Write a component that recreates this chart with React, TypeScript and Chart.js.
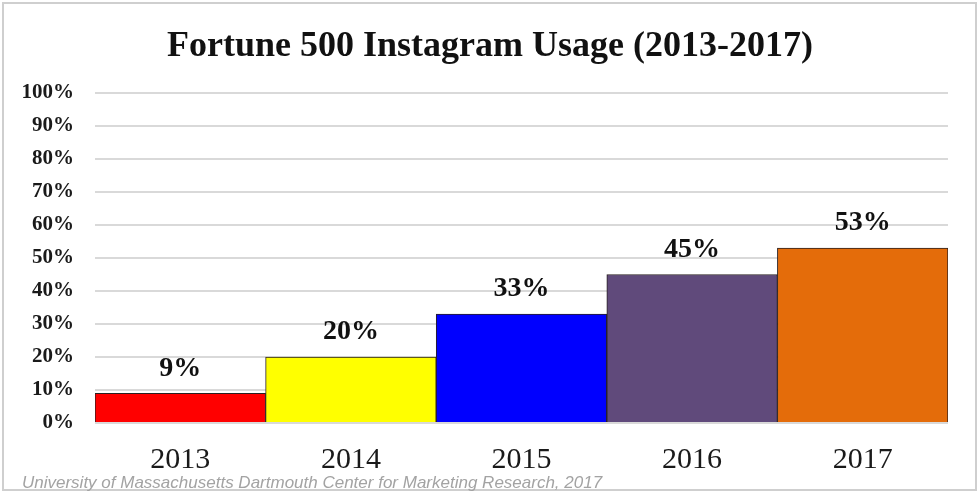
import React, { useEffect, useRef } from "react";
import { Chart, registerables } from "chart.js";

Chart.register(...registerables);

const categories: string[] = ["2013", "2014", "2015", "2016", "2017"];
const usageValues: number[] = [9, 20, 33, 45, 53];
const barColors: string[] = ["#ff0000", "#ffff00", "#0000ff", "#604a7b", "#e46c0a"];
const yTickValues: number[] = [0, 10, 20, 30, 40, 50, 60, 70, 80, 90, 100];
const titleText = "Fortune 500 Instagram Usage (2013-2017)";
const sourceText = "University of Massachusetts Dartmouth Center for Marketing Research, 2017";

const SERIF = "'Liberation Serif', 'Times New Roman', serif";
const SANS = "'Liberation Sans', Arial, sans-serif";

const decorPlugin = {
  id: "decor",
  beforeDraw(chart: any) {
    const ctx = chart.ctx;
    ctx.save();
    ctx.fillStyle = "#ffffff";
    ctx.fillRect(0, 0, chart.width, chart.height);
    ctx.strokeStyle = "#cfcfcf";
    ctx.lineWidth = 2;
    ctx.strokeRect(3, 3, chart.width - 6, chart.height - 7);
    ctx.restore();
  },
  afterDraw(chart: any) {
    const ctx = chart.ctx;
    ctx.save();
    // title
    ctx.fillStyle = "#111111";
    ctx.font = `bold 36px ${SERIF}`;
    ctx.textAlign = "center";
    ctx.textBaseline = "middle";
    ctx.fillText(titleText, 490, 47);
    // data labels
    const meta = chart.getDatasetMeta(0);
    ctx.font = `bold 28px ${SERIF}`;
    meta.data.forEach((bar: any, i: number) => {
      ctx.fillText(usageValues[i] + "%", bar.x, bar.y - 25);
    });
    // source
    ctx.fillStyle = "#a3a3a3";
    ctx.font = `italic 17px ${SANS}`;
    ctx.textAlign = "left";
    ctx.textBaseline = "alphabetic";
    ctx.fillText(sourceText, 22, 488);
    ctx.restore();
  },
};

export default function App() {
  const canvasRef = useRef<HTMLCanvasElement | null>(null);

  useEffect(() => {
    document.body.style.margin = "0";
    const canvas = canvasRef.current;
    if (!canvas) return;
    const chart = new Chart(canvas, {
      type: "bar",
      data: {
        labels: categories,
        datasets: [
          {
            data: usageValues,
            backgroundColor: barColors,
            borderColor: "#2a2020",
            borderWidth: 1,
            barPercentage: 1,
            categoryPercentage: 1,
          },
        ],
      },
      options: {
        responsive: false,
        animation: false,
        devicePixelRatio: 1,
        layout: { padding: { top: 93, right: 31, left: 0, bottom: 0 } },
        plugins: {
          legend: { display: false },
          tooltip: { enabled: false },
          title: { display: false },
        },
        scales: {
          x: {
            grid: { display: false, drawTicks: false },
            border: { display: false },
            ticks: {
              color: "#1a1a1a",
              font: { family: SERIF, size: 30 },
              padding: 19,
            },
            afterFit(scale: any) {
              scale.height = 71;
            },
          },
          y: {
            min: 0,
            max: 100,
            afterBuildTicks(scale: any) {
              scale.ticks = yTickValues.map((v) => ({ value: v }));
            },
            grid: { color: "#d9d9d9", lineWidth: 2, drawTicks: false },
            border: { display: false },
            ticks: {
              color: "#1a1a1a",
              font: { family: SERIF, size: 21, weight: "bold" },
              padding: 21,
              callback: (v: any) => v + "%",
            },
            afterFit(scale: any) {
              scale.width = 95;
            },
          },
        },
      },
      plugins: [decorPlugin],
    });
    return () => chart.destroy();
  }, []);

  return (
    <div style={{ width: 979, height: 494 }}>
      <canvas ref={canvasRef} width={979} height={494} style={{ display: "block" }} />
    </div>
  );
}
